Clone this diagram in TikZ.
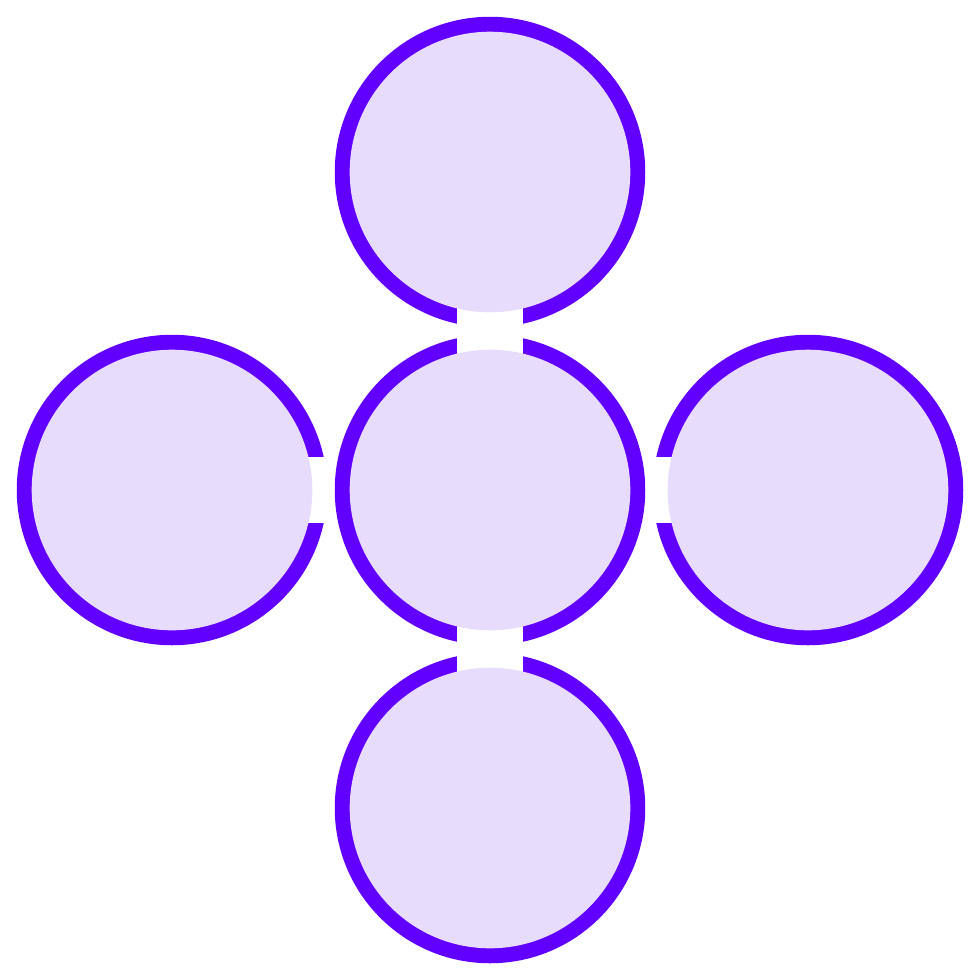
\documentclass[tikz,border=0pt]{standalone}
\definecolor{ringviolet}{HTML}{6200FF}
\definecolor{ringlilac}{HTML}{E8DCFD}
\tikzstyle{ring}=[draw=ringviolet, line width=1.55mm]
\tikzstyle{ring fill}=[fill=ringlilac]
\tikzstyle{gap}=[fill=white]

\begin{document}
\begin{tikzpicture}[x=0.1mm, y=-0.1mm]
          \useasboundingbox (0, 0) rectangle (980, 980);
          \coordinate (top) at (490, 172);
          \coordinate (left) at (172, 490);
          \coordinate (mid) at (490, 490);
          \coordinate (right) at (808, 490);
          \coordinate (bottom) at (490, 808);

          \foreach \c in {top, left, mid, right, bottom}
            \draw[ring] (\c) circle[radius=147.5];

          % cut the rings where they face each other
          \fill[gap] (457, 303) rectangle (523, 357);
          \fill[gap] (457, 623) rectangle (523, 677);
          \fill[gap] (303, 457) rectangle (331, 523);
          \fill[gap] (649, 457) rectangle (677, 523);

          \foreach \c in {top, left, mid, right, bottom}
            \fill[ring fill] (\c) circle[radius=140.3];
        \end{tikzpicture}
\end{document}
